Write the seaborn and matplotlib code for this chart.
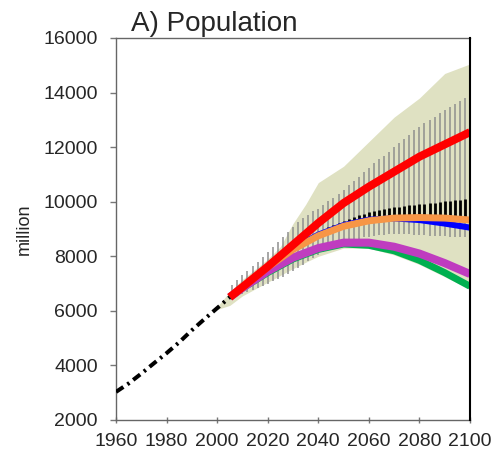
import numpy as np
import pandas as pd
import matplotlib
matplotlib.use("Agg")
import matplotlib.pyplot as plt
import seaborn as sns

sns.set_style("ticks")
plt.rcParams['font.family'] = ['Liberation Sans', 'DejaVu Sans']

# ---------------- data ----------------
hist_years = [1960, 1965, 1970, 1975, 1980, 1985, 1990, 1995, 2000, 2005]
hist_pop = [3030, 3340, 3700, 4080, 4450, 4850, 5290, 5700, 6100, 6500]

scen_years = [2005, 2010, 2020, 2030, 2040, 2050, 2060, 2070, 2080, 2090, 2100]
red_pop = [6500, 6870, 7620, 8420, 9220, 9950, 10550, 11100, 11650, 12100, 12550]
blue_pop = [6500, 6870, 7630, 8290, 8790, 9140, 9340, 9390, 9330, 9200, 9050]
orange_pop = [6500, 6860, 7600, 8250, 8750, 9100, 9300, 9400, 9420, 9400, 9330]
purple_pop = [6500, 6840, 7450, 7950, 8300, 8500, 8500, 8350, 8100, 7750, 7350]
green_pop = [6500, 6830, 7400, 7900, 8250, 8450, 8400, 8200, 7850, 7400, 6900]

band_years = [2000, 2005, 2010, 2020, 2025, 2030, 2035, 2040, 2050, 2060, 2070, 2080, 2090, 2100]
band_high = [6150, 6700, 7150, 7900, 8350, 9200, 9900, 10700, 11300, 12200, 13100, 13800, 14700, 15050]
band_low = [6050, 6200, 6550, 7050, 7300, 7550, 7780, 8000, 8300, 8300, 8050, 7700, 7250, 6800]

bar_years = list(range(2006, 2101, 2))
bar_high = [6950, 7120, 7300, 7450, 7630, 7800, 7980, 8160, 8340, 8530,
            8720, 8900, 9080, 9250, 9400, 9530, 9650, 9750, 9880, 10010,
            10140, 10290, 10430, 10600, 10760, 10920, 11080, 11250, 11420, 11550,
            11690, 11840, 12000, 12160, 12310, 12460, 12610, 12750, 12880, 13000,
            13120, 13240, 13350, 13460, 13570, 13680, 13790, 13880]
bar_low = [6450, 6540, 6620, 6700, 6770, 6840, 6920, 7000, 7080, 7160,
           7250, 7350, 7460, 7570, 7690, 7810, 7930, 8040, 8150, 8250,
           8340, 8420, 8490, 8550, 8600, 8650, 8690, 8720, 8750, 8770,
           8790, 8800, 8810, 8810, 8810, 8800, 8790, 8780, 8770, 8760,
           8750, 8740, 8730, 8720, 8710, 8700, 8690, 8680]

iqr_years = list(range(2040, 2101, 2))
iqr_high = [8900, 8980, 9060, 9140, 9220, 9300, 9380, 9450, 9510, 9560,
            9610, 9650, 9690, 9730, 9760, 9790, 9820, 9850, 9870, 9890,
            9910, 9930, 9950, 9970, 9990, 10010, 10030, 10050, 10070, 10090, 10100]
iqr_low = [8750, 8820, 8890, 8950, 9000, 9050, 9100, 9140, 9180, 9210,
           9240, 9260, 9280, 9300, 9320, 9330, 9340, 9350, 9360, 9360,
           9360, 9360, 9360, 9350, 9350, 9340, 9330, 9320, 9310, 9300, 9290]

x_ticks = [1960, 1980, 2000, 2020, 2040, 2060, 2080, 2100]
y_ticks = [2000, 4000, 6000, 8000, 10000, 12000, 14000, 16000]

# ---------------- figure ----------------
fig = plt.figure(figsize=(4.93, 4.58), dpi=100)
ax = fig.add_axes([116 / 493, 38 / 458, (470 - 116) / 493, (420 - 38) / 458])

ax.fill_between(band_years, band_low, band_high, color='#dfe1c2', lw=0, zorder=1)
ax.vlines(bar_years, bar_low, bar_high, color='#8f8f8f', lw=1.1, zorder=2)
ax.vlines(iqr_years, iqr_low, iqr_high, color='black', lw=2.0, zorder=3)

scen = pd.DataFrame({
    'year': scen_years * 5,
    'pop': green_pop + purple_pop + blue_pop + orange_pop + red_pop,
    'scenario': (['green'] * len(scen_years) + ['purple'] * len(scen_years)
                 + ['blue'] * len(scen_years) + ['orange'] * len(scen_years)
                 + ['red'] * len(scen_years)),
})
palette = {'green': '#00b050', 'purple': '#bf3cbf', 'blue': '#0000ff',
           'orange': '#f79646', 'red': '#ff0000'}
widths = {'green': 5.0, 'purple': 5.8, 'blue': 4.4, 'orange': 5.0, 'red': 5.8}
for i, name in enumerate(['green', 'purple', 'blue', 'orange', 'red']):
    sub = scen[scen['scenario'] == name]
    sns.lineplot(data=sub, x='year', y='pop', color=palette[name],
                 lw=widths[name], ax=ax, zorder=4 + i, legend=False,
                 solid_capstyle='butt', solid_joinstyle='round')

hist = pd.DataFrame({'year': hist_years, 'pop': hist_pop})
sns.lineplot(data=hist, x='year', y='pop', color='black', lw=2.9, ax=ax,
             zorder=10, linestyle=(0, (2.2, 1.2, 0.6, 1.2)))

ax.set_xlim(1960, 2100)
ax.set_ylim(2000, 16000)
ax.set_xticks(x_ticks)
ax.set_yticks(y_ticks)
ax.set_xlabel('')
ax.set_ylabel('million', fontsize=13, labelpad=8)
ax.tick_params(axis='y', direction='out', length=4, width=1, color='#777777',
               labelsize=14, pad=9)
ax.tick_params(axis='x', direction='inout', length=5, width=1, color='#777777',
               labelsize=14, pad=7)

for side in ['left', 'bottom', 'top']:
    ax.spines[side].set_color('#666666')
    ax.spines[side].set_linewidth(1.0)
ax.spines['right'].set_color('black')
ax.spines['right'].set_linewidth(1.5)
ax.spines['right'].set_zorder(11)

fig.text(131 / 493, 1 - 31 / 458, 'A) Population', fontsize=20,
         ha='left', va='baseline')

fig.savefig('out.png', dpi=100)
